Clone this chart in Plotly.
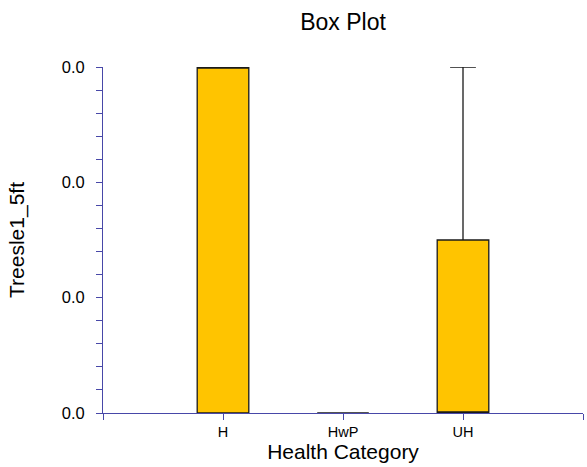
import plotly.graph_objects as go

# Box statistics per health category
categories = ["H", "HwP", "UH"]
positions = [0, 1, 2]
lower_fence = [0.0, 0.0, 0.0]
q1 = [0.0, 0.0, 0.0]
median = [0.03, 0.0, 0.0]
q3 = [0.03, 0.0, 0.015]
upper_fence = [0.03, 0.0, 0.03]

axis_color = "#4848A8"
box_fill = "#FFC400"
font_family = "Liberation Sans, Arial, sans-serif"

fig = go.Figure()
fig.add_trace(go.Box(
    x=positions,
    q1=q1,
    median=median,
    q3=q3,
    lowerfence=lower_fence,
    upperfence=upper_fence,
    width=0.43,
    whiskerwidth=0.5,
    fillcolor=box_fill,
    line=dict(color="#1a1a1a", width=1.3),
    boxpoints=False,
    hoverinfo="skip",
    showlegend=False,
))

fig.update_layout(
    width=587,
    height=467,
    margin=dict(l=103, r=4, t=67, b=54),
    paper_bgcolor="white",
    plot_bgcolor="white",
    font=dict(family=font_family, color="black"),
    title=dict(text="Box Plot", x=(103 + 583) / 2 / 587, xanchor="center",
               y=1 - 22 / 467, yanchor="middle",
               font=dict(size=23, color="black")),
)

fig.update_xaxes(
    range=[-1, 3],
    tickmode="array",
    tickvals=[-1] + positions + [3],
    ticktext=[""] + categories + [""],
    ticks="outside",
    ticklen=6,
    tickcolor=axis_color,
    tickfont=dict(size=14.5),
    ticklabelstandoff=0,
    showline=True,
    linecolor=axis_color,
    linewidth=1,
    showgrid=False,
    zeroline=False,
    title=dict(text="Health Category", font=dict(size=21), standoff=1),
)

fig.update_yaxes(
    range=[0, 0.03],
    tickmode="linear",
    tick0=0,
    dtick=0.01,
    tickformat=".1f",
    ticks="outside",
    ticklen=6,
    tickcolor=axis_color,
    tickfont=dict(size=16.5),
    ticklabelstandoff=8,
    minor=dict(dtick=0.002, ticks="outside", ticklen=6, tickcolor=axis_color, showgrid=False),
    showline=True,
    linecolor=axis_color,
    linewidth=1,
    showgrid=False,
    zeroline=False,
    title=dict(text="Treesle1_5ft", font=dict(size=21), standoff=31),
)

fig.write_html("out.html")
